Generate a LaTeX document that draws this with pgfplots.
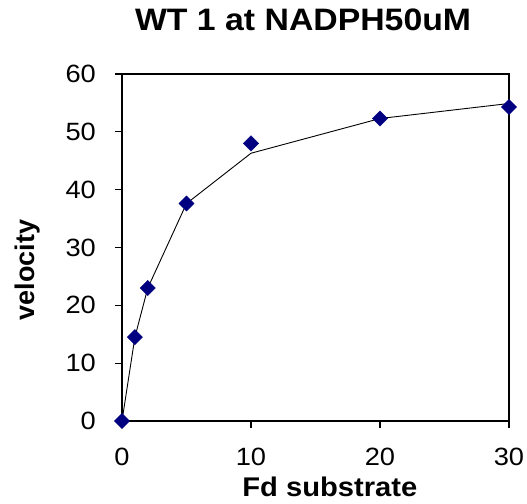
\documentclass[border=0pt]{standalone}
\usepackage{pgfplots}
\pgfplotsset{compat=1.18}
\usepackage{fontspec}
\setmainfont{Liberation Sans}
\definecolor{navy}{RGB}{0,0,128}
\begin{document}
\begin{tikzpicture}[x=1pt,y=1pt]
\useasboundingbox (0,0) rectangle (527,503);
\begin{axis}[
  at={(122pt,82pt)}, anchor=south west,
  scale only axis, width=387pt, height=347pt,
  xmin=0, xmax=30, ymin=0, ymax=60,
  xtick={0,10,20,30}, ytick={0,10,...,60},
  tick align=outside, xtick pos=bottom, ytick pos=left,
  major tick length=7pt,
  axis line style={line width=1.2pt},
  every tick/.style={black, line width=1.2pt},
  /pgf/number format/assume math mode=true,
  ticklabel style={font=\fontsize{25}{30}\selectfont, xscale=1.09},
  xticklabel style={anchor=north, yshift=-17pt},
  yticklabel style={anchor=east, xshift=-14pt},
  title={\textbf{WT 1 at NADPH50uM}},
  title style={font=\fontsize{31}{36}\selectfont, xscale=1.09, at={(axis description cs:0.468,1.107)}, anchor=base},
  xlabel={\textbf{Fd substrate}},
  xlabel style={font=\fontsize{27}{32}\selectfont, xscale=1.08, at={(axis description cs:0.537,-0.218)}, anchor=base},
  ylabel={\textbf{velocity}},
  ylabel style={font=\fontsize{27}{32}\selectfont, at={(axis description cs:-0.243,0.435)}, anchor=center, rotate=0},
  clip=false,
]
\addplot[black, line width=0.9pt, mark=none] coordinates {
  (0,0) (1,14.5) (2,23) (5,37.6) (10,46.3) (20,52.3) (30,54.9)
};
\addplot[only marks, mark=square*, mark size=5.4pt, mark options={rotate=45, fill=navy, draw=navy}] coordinates {
  (0,0) (1,14.5) (2,23) (5,37.6) (10,48) (20,52.3) (30,54.3)
};
\end{axis}
\end{tikzpicture}
\end{document}
